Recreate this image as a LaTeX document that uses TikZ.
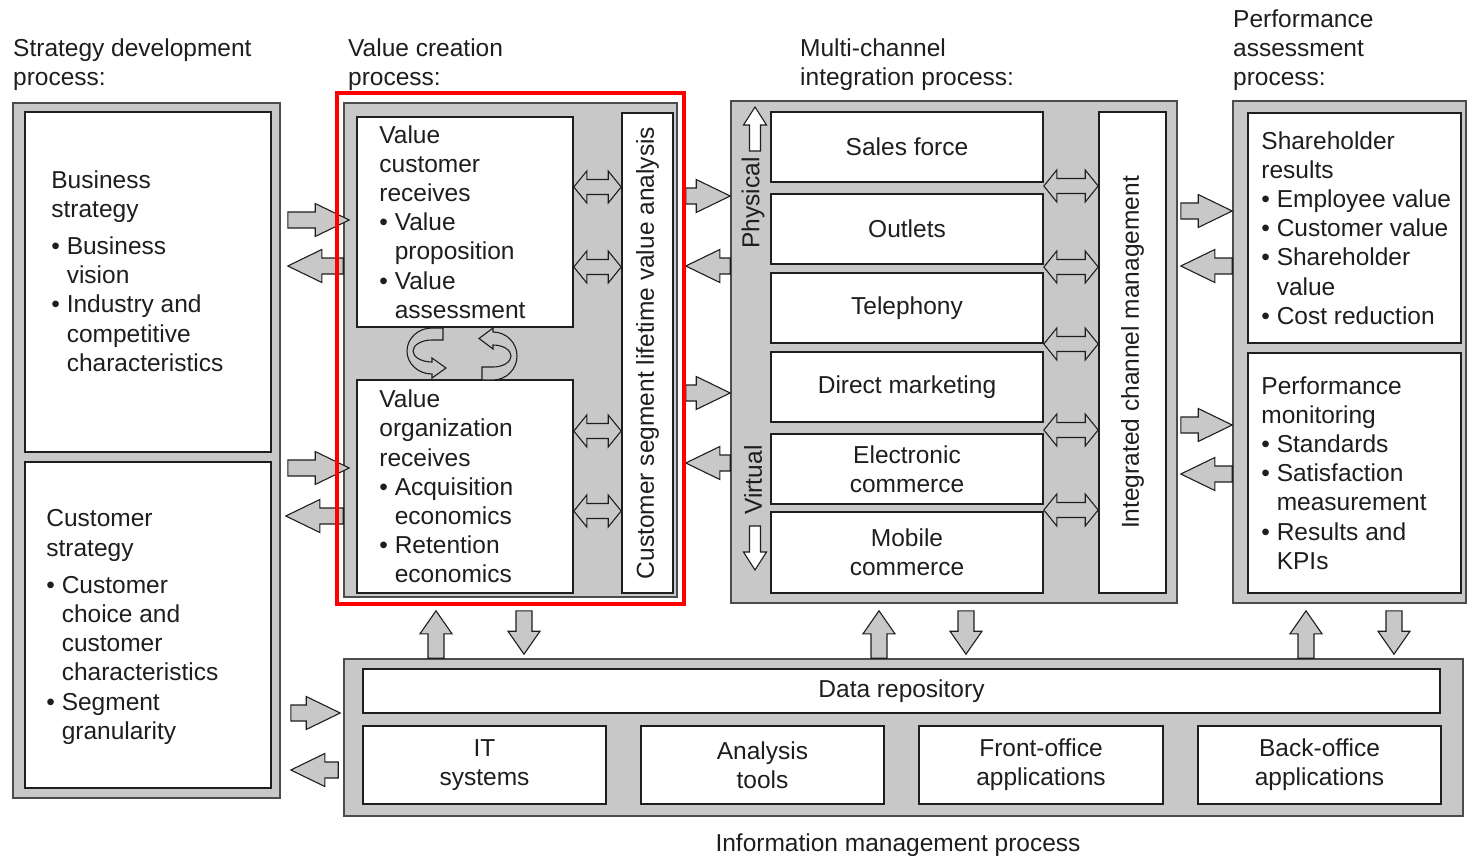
\documentclass[tikz,border=0pt]{standalone}
\usepackage{fontspec}
\setmainfont{Liberation Sans}
\usepackage{tikz}
\usetikzlibrary{calc,positioning}

\definecolor{panelgray}{HTML}{C8C8C9}
\definecolor{edgegray}{HTML}{4C4C4C}
\definecolor{inkgray}{HTML}{1E1E1E}

\newcommand{\bpt}{\textbullet\ }
\newcommand{\bsp}{\phantom{\textbullet\ }}

\tikzset{
  panel/.style={draw=edgegray,fill=panelgray,line width=1.6pt,inner sep=0pt},
  box/.style={draw=inkgray,fill=white,line width=1.6pt,inner sep=0pt},
  chan/.style={box,align=center,minimum width=272pt},
  txt/.style={align=left,inner sep=0pt},
  blockarrow/.style n args={3}{draw=inkgray,fill=panelgray,line width=1.1pt,line join=miter,
    to path={let \p1=(\tikztostart),\p2=(\tikztotarget) in
      ($(\p1)!#1!90:(\p2)$) -- ($(\p2)!#3!(\p1)!#1!90:(\p2)$)
      -- ($(\p2)!#3!(\p1)!#2!90:(\p2)$) -- (\p2)
      -- ($(\p2)!#3!(\p1)!#2!-90:(\p2)$) -- ($(\p2)!#3!(\p1)!#1!-90:(\p2)$)
      -- ($(\p1)!#1!-90:(\p2)$) -- cycle}},
  twinarrow/.style n args={3}{draw=inkgray,fill=panelgray,line width=1.1pt,line join=miter,
    to path={let \p1=(\tikztostart),\p2=(\tikztotarget) in
      ($(\p1)!#3!(\p2)!#1!90:(\p2)$) -- ($(\p2)!#3!(\p1)!#1!90:(\p2)$)
      -- ($(\p2)!#3!(\p1)!#2!90:(\p2)$) -- (\p2)
      -- ($(\p2)!#3!(\p1)!#2!-90:(\p2)$) -- ($(\p2)!#3!(\p1)!#1!-90:(\p2)$)
      -- ($(\p1)!#3!(\p2)!#1!-90:(\p2)$) -- ($(\p1)!#3!(\p2)!#2!-90:(\p2)$)
      -- (\p1) -- ($(\p1)!#3!(\p2)!#2!90:(\p2)$) -- cycle}},
  bigarrow/.style={blockarrow={8pt}{16.5pt}{34pt}},
  vertarrow/.style={blockarrow={8pt}{16pt}{23pt}},
  linkarrow/.style={twinarrow={7.5pt}{16pt}{13pt}},
  dirarrow/.style={blockarrow={5.5pt}{11.5pt}{18pt},fill=white},
  loopband/.style={draw=inkgray,fill=panelgray,line width=1.1pt,line join=miter},
}

\begin{document}
\begin{tikzpicture}[x=1pt,y=-1pt,font=\fontsize{24.5}{29.2}\selectfont,text=inkgray]
\useasboundingbox (0,0) rectangle (1468,856);

% process panels
\node (sdp) at (146.5,450.5)[panel,minimum width=267pt,minimum height=695pt] {};
\node (vcp) at (510.5,350)[panel,minimum width=333pt,minimum height=494pt] {};
\node (mcp) at (954,352)[panel,minimum width=446pt,minimum height=502pt] {};
\node (pap) at (1349.5,352)[panel,minimum width=233pt,minimum height=502pt] {};
\node (imp) at (903.5,737.5)[panel,minimum width=1119pt,minimum height=157pt] {};

% headings
\node (sdpL) at (13,64.5)[txt,anchor=west] {Strategy development\\process:};
\node (vcpL) at (348,64.5)[txt,anchor=west] {Value creation\\process:};
\node (mcpL) at (800,64.5)[txt,anchor=west] {Multi-channel\\integration process:};
\node (papL) at (1233,50)[txt,anchor=west] {Performance\\assessment\\process:};
\node (impL) at (898,845)[txt] {Information management process};

% strategy development
\node (bs) at (148,282)[box,minimum width=246pt,minimum height=340pt] {};
\node (cs) at (148,625)[box,minimum width=246pt,minimum height=326pt] {};
\node (bsT)[txt,right=27pt of bs.west,yshift=11pt] {Business\\strategy\\[8pt]\bpt Business\\\bsp vision\\\bpt Industry and\\\bsp competitive\\\bsp characteristics};
\node (csT)[txt,right=22pt of cs.west,yshift=-2pt] {Customer\\strategy\\[8pt]\bpt Customer\\\bsp choice and\\\bsp customer\\\bsp characteristics\\\bpt Segment\\\bsp granularity};

% value creation
\node (vcr) at (465,222)[box,minimum width=216pt,minimum height=210pt] {};
\node (vor) at (465,486.5)[box,minimum width=216pt,minimum height=213pt] {};
\node (cslva) at (647.5,353)[box,rotate=90,minimum width=480pt,minimum height=51pt] {Customer segment lifetime value analysis};
\node (vcrT)[txt,right=23pt of vcr.west] {Value\\customer\\receives\\\bpt Value\\\bsp proposition\\\bpt Value\\\bsp assessment};
\node (vorT)[txt,right=23pt of vor.west] {Value\\organization\\receives\\\bpt Acquisition\\\bsp economics\\\bpt Retention\\\bsp economics};

% multi-channel integration
\node (sales) at (907,147)[chan,minimum height=70pt] {Sales force};
\node (outlets) at (907,229)[chan,minimum height=70pt] {Outlets};
\node (tel) at (907,308)[chan,minimum height=70pt] {Telephony};
\node (dm) at (907,387)[chan,minimum height=70pt] {Direct marketing};
\node (ec) at (907,469)[chan,minimum height=70pt] {Electronic\\commerce};
\node (mc) at (907,552.5)[chan,minimum height=81pt] {Mobile\\commerce};
\node (icm) at (1132.5,352.5)[box,rotate=90,minimum width=481pt,minimum height=67pt] {Integrated channel management};
\node (phys) at (753,203)[rotate=90,inner sep=0pt] {Physical};
\node (virt) at (753,480)[rotate=90,inner sep=0pt] {Virtual};
\coordinate (physA) at (755,151);
\coordinate (physB) at (755,107);
\coordinate (virtA) at (755,526);
\coordinate (virtB) at (755,570);

% performance assessment
\node (sr) at (1354.5,228)[box,minimum width=213pt,minimum height=230pt] {};
\node (pm) at (1354.5,473)[box,minimum width=213pt,minimum height=240pt] {};
\node (srT)[txt,right=14pt of sr.west] {Shareholder\\results\\\bpt Employee value\\\bpt Customer value\\\bpt Shareholder\\\bsp value\\\bpt Cost reduction};
\node (pmT)[txt,right=14pt of pm.west] {Performance\\monitoring\\\bpt Standards\\\bpt Satisfaction\\\bsp measurement\\\bpt Results and\\\bsp KPIs};

% information management
\node (dr) at (901.5,691)[box,minimum width=1077pt,minimum height=44pt] {Data repository};
\node (its) at (484.5,765)[box,align=center,minimum width=243pt,minimum height=78pt] {IT\\systems};
\node (ant) at (762.5,765)[box,align=center,minimum width=243pt,minimum height=78pt] {Analysis\\tools};
\node (fo) at (1041,765)[box,align=center,minimum width=244pt,minimum height=78pt] {Front-office\\applications};
\node (bo) at (1319.5,765)[box,align=center,minimum width=243pt,minimum height=78pt] {Back-office\\applications};

% strategy <-> value creation / information
\draw [bigarrow] ($(sdp.east|-0,220)+(7,0)$) to ($(vcp.west|-0,220)+(6,0)$);
\draw [bigarrow] (vcp.west|-0,266) to ($(sdp.east|-0,266)+(7,0)$);
\draw [bigarrow] ($(sdp.east|-0,468)+(7,0)$) to ($(vcp.west|-0,468)+(6,0)$);
\draw [bigarrow] (vcp.west|-0,516) to ($(sdp.east|-0,516)+(5,0)$);
\draw [bigarrow] ($(sdp.east|-0,713)+(10,0)$) to ($(imp.west|-0,713)+(-3,0)$);
\draw [bigarrow] ($(imp.west|-0,770)+(-5,0)$) to ($(sdp.east|-0,770)+(10,0)$);

% value creation <-> multi-channel
\draw [bigarrow] ($(vcp.east|-0,196)+(8,0)$) to (mcp.west|-0,196);
\draw [bigarrow] (mcp.west|-0,266) to ($(vcp.east|-0,266)+(8,0)$);
\draw [bigarrow] ($(vcp.east|-0,393)+(8,0)$) to (mcp.west|-0,393);
\draw [bigarrow] (mcp.west|-0,463) to ($(vcp.east|-0,463)+(8,0)$);

% multi-channel <-> performance
\draw [bigarrow] ($(mcp.east|-0,211)+(3,0)$) to (pap.west|-0,211);
\draw [bigarrow] (pap.west|-0,266) to ($(mcp.east|-0,266)+(3,0)$);
\draw [bigarrow] ($(mcp.east|-0,425)+(3,0)$) to (pap.west|-0,425);
\draw [bigarrow] (pap.west|-0,474) to ($(mcp.east|-0,474)+(3,0)$);

% processes <-> information management
\draw [vertarrow] (imp.north-|436,0) to ($(vcp.south-|436,0)+(0,13)$);
\draw [vertarrow] ($(vcp.south-|524,0)+(0,13)$) to ($(imp.north-|524,0)+(0,-4)$);
\draw [vertarrow] (imp.north-|879,0) to ($(mcp.south-|879,0)+(0,7)$);
\draw [vertarrow] ($(mcp.south-|966,0)+(0,7)$) to ($(imp.north-|966,0)+(0,-4)$);
\draw [vertarrow] (imp.north-|1306,0) to ($(pap.south-|1306,0)+(0,7)$);
\draw [vertarrow] ($(pap.south-|1394,0)+(0,7)$) to ($(imp.north-|1394,0)+(0,-4)$);

% links inside value creation
\draw [linkarrow] (vcr.east|-0,187) to (cslva.north|-0,187);
\draw [linkarrow] (vcr.east|-0,267) to (cslva.north|-0,267);
\draw [linkarrow] (vor.east|-0,431) to (cslva.north|-0,431);
\draw [linkarrow] (vor.east|-0,511) to (cslva.north|-0,511);

% links inside multi-channel
\draw [linkarrow] (sales.east|-0,186) to (icm.north|-0,186);
\draw [linkarrow] (sales.east|-0,267) to (icm.north|-0,267);
\draw [linkarrow] (sales.east|-0,344) to (icm.north|-0,344);
\draw [linkarrow] (sales.east|-0,430) to (icm.north|-0,430);
\draw [linkarrow] (sales.east|-0,510) to (icm.north|-0,510);
\draw [dirarrow] (physA) to (physB);
\draw [dirarrow] (virtA) to (virtB);

% cycle between the value boxes
\draw [loopband] (443,328) -- (432,328) arc[start angle=90,end angle=270,x radius=25pt,y radius=23pt] -- (432,378) -- (446,368) -- (432,358) -- (432,362) arc[start angle=270,end angle=90,x radius=19pt,y radius=11pt] -- (443,340) -- cycle;
\draw [loopband] (482,380) -- (493,380) arc[start angle=-90,end angle=90,x radius=24pt,y radius=24pt] -- (493,328) -- (479,338.5) -- (493,349) -- (493,345) arc[start angle=90,end angle=-90,x radius=18pt,y radius=11pt] -- (482,367) -- cycle;

% highlight
\node (hl) at (510.5,348.5)[draw=red,line width=4pt,inner sep=0pt,minimum width=347pt,minimum height=511pt] {};
\end{tikzpicture}
\end{document}
